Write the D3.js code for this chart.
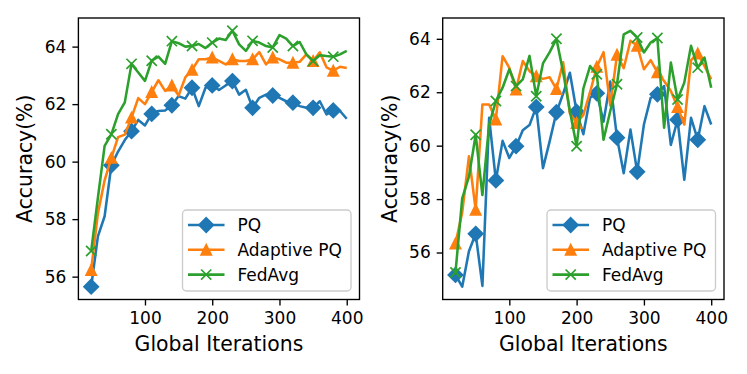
<!DOCTYPE html>
<html>
  <head>
    <style>
      body { margin: 0; background: #fff; }
      text { font-family: "DejaVu Sans", sans-serif; }
    </style>
  </head>
  <body>
    <div id="chart"></div>
  </body>
</html>

<script src="https://d3js.org/d3.v7.min.js"></script>

<script>

    // global iterations (x values shared by every series)
    var iterations = [20, 30, 40, 50, 60, 70, 80, 90, 100, 110, 120, 130, 140, 150, 160, 170, 180, 190, 200, 210,
                      220, 230, 240, 250, 260, 270, 280, 290, 300, 310, 320, 330, 340, 350, 360, 370, 380, 390, 400]

    // left panel
    var pqLeft = [55.65, 57.4, 58.1, 59.87, 60.35, 60.75, 61.06, 61.45, 61.26, 61.66, 61.76, 61.78, 61.96, 62.28, 62.19, 62.57, 61.93, 62.57, 62.65, 62.49,
                  62.65, 62.8, 62.33, 62.5, 61.87, 62.22, 62.33, 62.3, 62.22, 62.1, 62.05, 61.93, 61.87, 61.87, 62.1, 61.64, 61.78, 61.76, 61.49]
    var adaptiveLeft = [56.23, 58.2, 59.35, 60.13, 60.85, 60.94, 61.53, 62.21, 62.0, 62.42, 62.83, 62.46, 62.65, 62.3, 62.93, 63.19, 63.56, 63.56, 63.62, 63.5,
                        63.38, 63.56, 63.5, 63.5, 63.56, 63.81, 63.38, 63.62, 63.56, 63.44, 63.44, 63.47, 63.73, 63.5, 63.8, 63.28, 63.16, 63.3, 63.26]
    var fedavgLeft = [56.89, 58.74, 60.55, 60.95, 61.65, 62.06, 63.4, 63.1, 62.81, 63.51, 63.65, 63.4, 64.19, 64.12, 64.0, 64.02, 64.09, 63.95, 64.14, 64.28,
                      64.23, 64.55, 64.08, 63.85, 64.2, 64.14, 64.02, 63.97, 64.4, 64.28, 64.02, 64.16, 63.73, 63.5, 63.7, 63.67, 63.65, 63.73, 63.85]

    // right panel
    var pqRight = [55.16, 54.72, 56.05, 56.7, 54.75, 61.04, 58.7, 60.18, 59.54, 59.98, 60.58, 60.77, 61.45, 59.16, 60.17, 61.25, 61.95, 62.73, 61.27, 60.43,
                   61.8, 61.96, 60.9, 62.4, 60.3, 58.97, 60.6, 59.02, 60.79, 61.79, 61.92, 62.23, 60.03, 60.97, 58.72, 61.04, 60.22, 61.48, 60.79]
    var adaptiveRight = [56.34, 57.5, 59.6, 57.6, 61.54, 61.54, 60.98, 63.35, 62.91, 62.1, 63.17, 62.79, 62.6, 62.5, 62.56, 62.12, 63.12, 61.2, 60.85, 61.15,
                         62.0, 62.95, 63.5, 61.5, 63.4, 62.9, 63.93, 63.74, 62.86, 63.2, 62.75, 62.42, 62.05, 61.45, 60.79, 63.2, 63.45, 62.98, 62.48]
    var fedavgRight = [55.25, 58.03, 58.84, 60.41, 58.15, 60.79, 61.67, 62.17, 62.86, 62.23, 62.48, 63.36, 61.85, 63.08, 63.5, 64.0, 62.75, 61.3, 59.98, 62.14,
                       62.98, 62.67, 60.22, 61.3, 62.3, 64.17, 64.3, 64.05, 63.49, 63.86, 64.03, 60.67, 63.11, 61.73, 62.36, 63.74, 62.92, 63.3, 62.17]

    var seriesNames = ["PQ", "Adaptive PQ", "FedAvg"]
    var xTicks = [100, 200, 300, 400]
    var yTicks = [56, 58, 60, 62, 64]

    var width = 747
        height = 374
        colors = ["#1f77b4", "#ff7f0e", "#2ca02c"]
        markerEvery = 3

    var svg = d3.select("#chart")
      .append("svg")
        .attr("width", width)
        .attr("height", height)

    // marker shapes, centred on 0,0
    function markerPath(i) {
        if (i == 0) return "M0,-7.2L7.2,0L0,7.2L-7.2,0Z"
        if (i == 1) return "M0,-5.1L5.1,5.1L-5.1,5.1Z"
        return "M-5.1,-5.1L5.1,5.1M-5.1,5.1L5.1,-5.1"
    }

    function drawPanel(left, right, series) {
        var top = 18, bottom = 299.5
        var g = svg.append("g")

        var x = d3.scaleLinear().domain([1, 419]).range([left, right])

        var all = d3.merge(series)
        var lo = d3.min(all), hi = d3.max(all), pad = (hi - lo) * 0.05
        var y = d3.scaleLinear().domain([lo - pad, hi + pad]).range([bottom, top])

        var line = d3.line()
            .x(function(d, i) { return x(iterations[i]) })
            .y(function(d) { return y(d) })

        series.forEach(function(values, s) {
            g.append("path")
                .datum(values)
                .attr("d", line)
                .attr("fill", "none")
                .attr("stroke", colors[s])
                .attr("stroke-width", 2.55)
                .attr("stroke-linejoin", "round")

            g.selectAll(".m" + s)
                .data(values.filter(function(d, i) { return i % markerEvery == 0 }))
                .enter()
                .append("path")
                .attr("transform", function(d, i) { return "translate(" + x(iterations[i * markerEvery]) + "," + y(d) + ")" })
                .attr("d", markerPath(s))
                .attr("fill", s == 2 ? "none" : colors[s])
                .attr("stroke", colors[s])
                .attr("stroke-width", 1.7)
        })

        // axes
        var xAxis = g.append("g")
            .attr("transform", "translate(0," + bottom + ")")
            .call(d3.axisBottom(x).tickValues(xTicks).tickSize(6).tickPadding(6))
        var yAxis = g.append("g")
            .attr("transform", "translate(" + left + ",0)")
            .call(d3.axisLeft(y).tickValues(yTicks).tickSize(6).tickPadding(6))

        ;[xAxis, yAxis].forEach(function(a) {
            a.select(".domain").remove()
            a.selectAll("line").attr("stroke", "#000").attr("stroke-width", 1.36)
            a.selectAll("text").attr("font-size", 17).attr("fill", "#000")
                .style("font-family", "DejaVu Sans")
        })

        g.append("rect")
            .attr("x", left).attr("y", top)
            .attr("width", right - left).attr("height", bottom - top)
            .attr("fill", "none").attr("stroke", "#000").attr("stroke-width", 1.36)

        g.append("text")
            .attr("x", (left + right) / 2).attr("y", 351)
            .attr("text-anchor", "middle")
            .attr("font-size", 20.4)
            .text("Global Iterations")

        g.append("text")
            .attr("transform", "translate(" + (left - 46) + "," + ((top + bottom) / 2) + ") rotate(-90)")
            .attr("text-anchor", "middle")
            .attr("font-size", 20.4)
            .text("Accuracy(%)")

        // legend, lower right
        var lw = 168.5, lh = 81
        var lx = right - 8.5 - lw, ly = bottom - 8.5 - lh
        var legend = g.append("g")
        legend.append("rect")
            .attr("x", lx).attr("y", ly).attr("width", lw).attr("height", lh)
            .attr("rx", 4).attr("fill", "#fff").attr("fill-opacity", 0.8)
            .attr("stroke", "#cccccc").attr("stroke-width", 1.36)

        seriesNames.forEach(function(name, s) {
            var yy = ly + 15 + s * 24.8
            legend.append("line")
                .attr("x1", lx + 5.5).attr("x2", lx + 42)
                .attr("y1", yy).attr("y2", yy)
                .attr("stroke", colors[s]).attr("stroke-width", 2.55)
            legend.append("path")
                .attr("transform", "translate(" + (lx + 23.7) + "," + yy + ")")
                .attr("d", markerPath(s))
                .attr("fill", s == 2 ? "none" : colors[s])
                .attr("stroke", colors[s])
                .attr("stroke-width", 1.7)
            legend.append("text")
                .attr("x", lx + 55).attr("y", yy)
                .attr("dy", "0.36em")
                .attr("font-size", 17)
                .text(name)
        })
    }

    drawPanel(78.4, 359.5, [pqLeft, adaptiveLeft, fedavgLeft])
    drawPanel(442.7, 724, [pqRight, adaptiveRight, fedavgRight])

</script>
